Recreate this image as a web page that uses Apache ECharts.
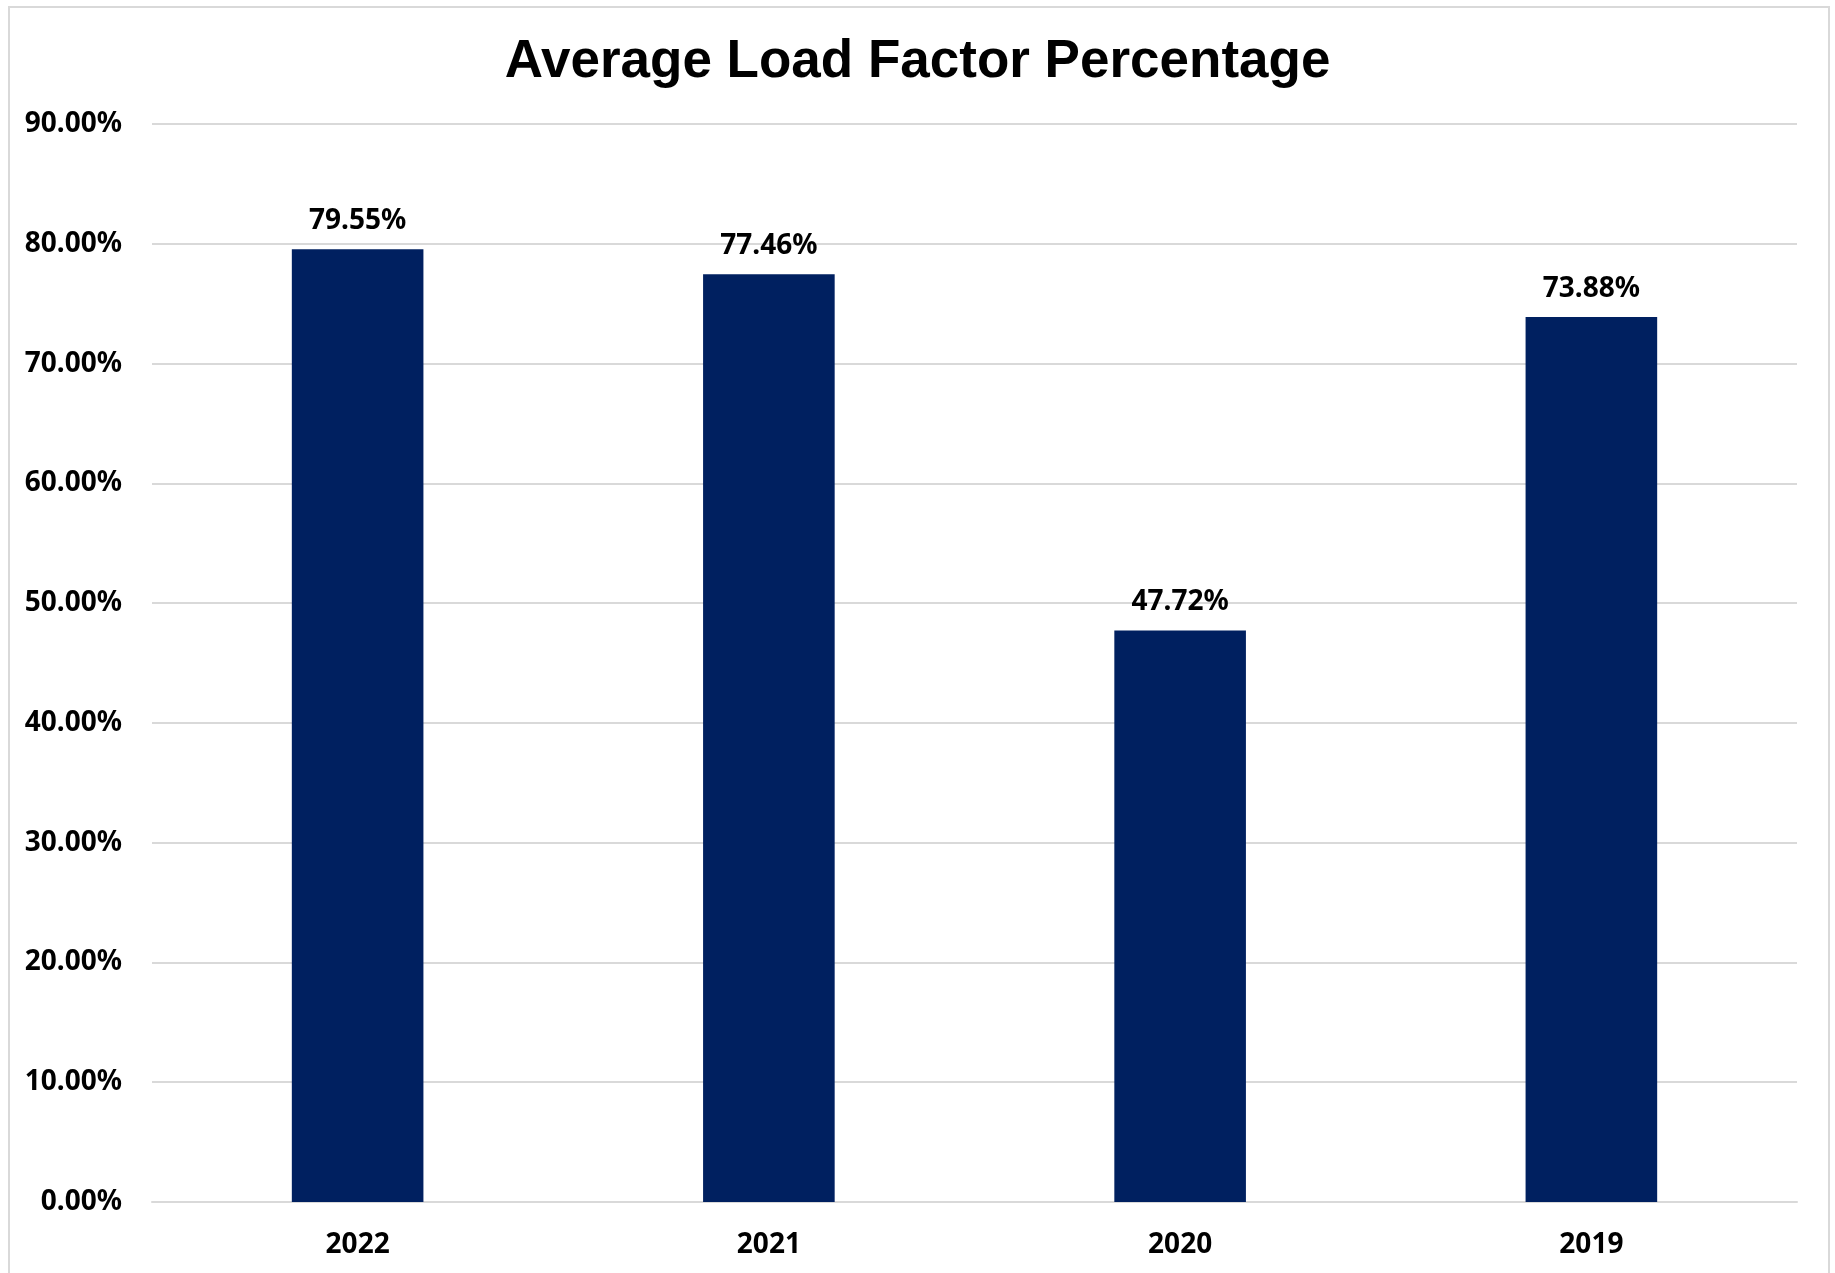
<!DOCTYPE html>
<html>
<head>
<meta charset="utf-8">
<script src="https://cdn.jsdelivr.net/npm/echarts@6/dist/echarts.min.js"></script>
<style>
  html, body { margin: 0; padding: 0; background: #fff; }
  #wrap { position: absolute; left: 0; top: 0; width: 1835px; height: 1273px; overflow: hidden; }
  #frame { position: absolute; left: 8px; top: 6px; width: 1818px; height: 1300px; border: 2px solid #d9d9d9; }
  #chart { position: absolute; left: 0; top: 0; width: 1835px; height: 1273px; }
</style>
</head>
<body>
<div id="wrap">
  <div id="frame"></div>
  <div id="chart"></div>
</div>
<script>
const years = ['2022', '2021', '2020', '2019'];
const loadFactor = [79.55, 77.46, 47.72, 73.88];
const yMin = 0;
const yMax = 90;
const yStep = 10;

const chart = echarts.init(document.getElementById('chart'));

const labelFont = {
    fontFamily: '"Noto Sans", "Open Sans", sans-serif',
    fontWeight: 'bold',
    fontSize: 28,
    color: '#000'
};

chart.setOption({
    animation: false,
    title: {
        text: 'Average Load Factor Percentage',
        left: 'center',
        top: 31,
        textStyle: {
            fontFamily: '"Liberation Sans", Arial, sans-serif',
            fontWeight: 'bold',
            fontSize: 53,
            color: '#000'
        }
    },
    grid: {
        left: 152,
        right: 38,
        top: 124,
        bottom: 71,
        containLabel: false
    },
    xAxis: {
        type: 'category',
        data: years,
        axisTick: { show: false },
        axisLine: { lineStyle: { color: '#d9d9d9', width: 2 } },
        axisLabel: Object.assign({ margin: 29 }, labelFont)
    },
    yAxis: {
        type: 'value',
        min: yMin,
        max: yMax,
        interval: yStep,
        axisLine: { show: false },
        axisTick: { show: false },
        splitLine: { lineStyle: { color: '#d9d9d9', width: 2 } },
        axisLabel: Object.assign({
            margin: 30,
            formatter: v => v.toFixed(2) + '%'
        }, labelFont)
    },
    series: [
        {
            type: 'bar',
            data: loadFactor,
            barWidth: '32%',
            itemStyle: { color: '#002060' },
            label: Object.assign({
                show: true,
                position: 'top',
                distance: 14,
                formatter: p => p.value.toFixed(2) + '%'
            }, labelFont)
        }
    ]
});
</script>
</body>
</html>
